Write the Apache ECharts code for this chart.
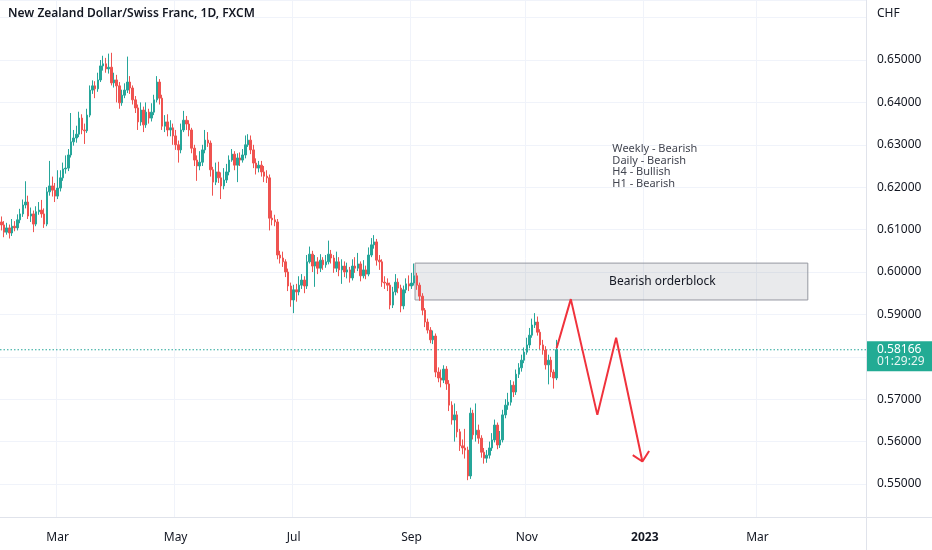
<!DOCTYPE html>
<html><head><meta charset="utf-8">
<script src="https://cdn.jsdelivr.net/npm/echarts@6/dist/echarts.min.js"></script>
<style>html,body{margin:0;padding:0;background:#fff}#c{width:932px;height:550px}</style>
</head><body><div id="c"></div>
<script>
// ---- data ----
const startDate = '2022-01-31';
const barCount = 323;
const tickDates = ['2022-03-01','2022-05-02','2022-07-01','2022-09-01','2022-11-01','2023-01-02','2023-03-01'];
const tickLabels = ['Mar','May','Jul','Sep','Nov','2023','Mar'];
const yMin = 0.542217, yMax = 0.664151;
const currency = 'CHF';
const titleText = 'New Zealand Dollar/Swiss Franc, 1D, FXCM';
const lastPrice = 0.58166;
const countdown = '01:29:29';

const openP = [
.6118,.6111,.6094,.6104,.6092,.6108,.6104,.6123,.6137,.6158,
.6165,.6132,.6137,.6113,.6142,.6146,.6137,.6113,.6189,.6203,
.6193,.6179,.6198,.6222,.6243,.6245,.6276,.6307,.6316,.6325,
.6363,.6335,.6333,.6370,.6429,.6439,.6432,.6453,.6486,.6491,
.6479,.6483,.6446,.6453,.6439,.6399,.6417,.6429,.6448,.6434,
.6406,.6387,.6354,.6382,.6347,.6377,.6363,.6377,.6406,.6448,
.6410,.6344,.6354,.6335,.6340,.6321,.6300,.6288,.6335,.6358,
.6349,.6335,.6292,.6264,.6250,.6259,.6288,.6311,.6304,.6241,
.6212,.6236,.6222,.6203,.6217,.6236,.6264,.6278,.6252,.6269,
.6264,.6276,.6300,.6311,.6288,.6257,.6245,.6252,.6236,.6226,
.6222,.6127,.6123,.6118,.6040,.6033,.6024,.6000,.5967,.5934,
.5958,.5953,.5969,.5981,.5967,.6024,.6042,.6014,.6024,.6009,
.6028,.6017,.6024,.6042,.6033,.6009,.6024,.6005,.6014,.6000,
.6005,.5986,.6014,.6009,.6019,.5991,.6005,.5995,.6040,.6064,
.6071,.6028,.6024,.5976,.5974,.5969,.5922,.5953,.5976,.5962,
.5920,.5958,.5972,.5967,.5974,.5991,.5969,.5943,.5910,.5882,
.5863,.5840,.5849,.5764,.5750,.5745,.5771,.5736,.5686,.5651,
.5663,.5623,.5590,.5585,.5580,.5519,.5667,.5616,.5627,.5608,
.5575,.5561,.5568,.5585,.5604,.5639,.5592,.5604,.5663,.5686,
.5693,.5733,.5717,.5759,.5774,.5792,.5811,.5828,.5851,.5875,
.5882,.5858,.5828,.5816,.5781,.5792,.5764,.5750];

const closeP = [
.6111,.6094,.6104,.6092,.6108,.6104,.6123,.6137,.6158,.6165,
.6132,.6137,.6113,.6142,.6146,.6137,.6113,.6189,.6203,.6193,
.6179,.6198,.6222,.6243,.6245,.6276,.6307,.6316,.6325,.6363,
.6335,.6333,.6370,.6429,.6439,.6432,.6453,.6486,.6491,.6479,
.6483,.6446,.6453,.6439,.6399,.6417,.6429,.6448,.6434,.6406,
.6387,.6354,.6382,.6347,.6377,.6363,.6377,.6406,.6448,.6410,
.6344,.6354,.6335,.6340,.6321,.6300,.6288,.6335,.6358,.6349,
.6335,.6292,.6264,.6250,.6259,.6288,.6311,.6304,.6241,.6212,
.6236,.6222,.6203,.6217,.6236,.6264,.6278,.6252,.6269,.6264,
.6276,.6300,.6311,.6288,.6257,.6245,.6252,.6236,.6226,.6222,
.6127,.6123,.6118,.6040,.6033,.6024,.6000,.5967,.5934,.5958,
.5953,.5969,.5981,.5967,.6024,.6042,.6014,.6024,.6009,.6028,
.6017,.6024,.6042,.6033,.6009,.6024,.6005,.6014,.6000,.6005,
.5986,.6014,.6009,.6019,.5991,.6005,.5995,.6040,.6064,.6071,
.6028,.6024,.5976,.5974,.5969,.5922,.5953,.5976,.5962,.5920,
.5958,.5972,.5967,.5974,.5991,.5969,.5943,.5910,.5882,.5863,
.5840,.5849,.5764,.5750,.5745,.5771,.5736,.5686,.5651,.5663,
.5623,.5590,.5585,.5580,.5519,.5667,.5616,.5627,.5608,.5575,
.5561,.5568,.5585,.5604,.5639,.5592,.5604,.5663,.5686,.5693,
.5733,.5717,.5759,.5774,.5792,.5811,.5828,.5851,.5875,.5882,
.5858,.5828,.5816,.5781,.5792,.5764,.5750,.58166];

const highP = [
.6131,.6120,.6116,.6112,.6125,.6120,.6136,.6149,.6171,.6214,
.6180,.6152,.6145,.6155,.6165,.6170,.6150,.6200,.6262,.6225,
.6210,.6240,.6240,.6258,.6275,.6290,.6375,.6335,.6345,.6378,
.6372,.6350,.6385,.6440,.6452,.6450,.6470,.6500,.6510,.6505,
.6515,.6517,.6470,.6465,.6448,.6430,.6445,.6508,.6462,.6440,
.6415,.6395,.6400,.6390,.6400,.6385,.6398,.6418,.6462,.6455,
.6418,.6370,.6372,.6358,.6350,.6335,.6310,.6350,.6380,.6368,
.6358,.6340,.6300,.6275,.6285,.6300,.6335,.6330,.6310,.6248,
.6258,.6260,.6235,.6245,.6255,.6275,.6290,.6285,.6280,.6282,
.6290,.6322,.6325,.6322,.6300,.6268,.6262,.6262,.6250,.6240,
.6230,.6145,.6135,.6125,.6050,.6048,.6030,.6008,.5975,.5970,
.5972,.5990,.5995,.5990,.6040,.6060,.6050,.6040,.6035,.6042,
.6035,.6040,.6074,.6052,.6040,.6048,.6035,.6030,.6025,.6022,
.6012,.6030,.6035,.6045,.6025,.6028,.6015,.6058,.6080,.6087,
.6078,.6040,.6030,.5990,.5985,.5975,.5965,.5995,.5985,.5970,
.5968,.5985,.5992,.5998,.6020,.5998,.5975,.5950,.5915,.5890,
.5870,.5862,.5855,.5775,.5770,.5780,.5778,.5745,.5695,.5690,
.5672,.5630,.5605,.5630,.5588,.5680,.5675,.5690,.5640,.5615,
.5585,.5580,.5600,.5620,.5652,.5645,.5625,.5675,.5700,.5715,
.5745,.5742,.5770,.5785,.5805,.5822,.5845,.5868,.5890,.5903,
.5895,.5865,.5840,.5825,.5805,.5800,.5770,.5840];

const lowP = [
.6098,.6082,.6088,.6079,.6085,.6096,.6098,.6115,.6130,.6150,
.6125,.6118,.6094,.6108,.6135,.6128,.6104,.6108,.6180,.6178,
.6165,.6172,.6190,.6215,.6232,.6238,.6270,.6298,.6305,.6318,
.6325,.6302,.6328,.6365,.6420,.6410,.6425,.6448,.6475,.6470,
.6468,.6440,.6435,.6400,.6385,.6392,.6410,.6422,.6420,.6395,
.6375,.6335,.6345,.6330,.6340,.6350,.6355,.6370,.6400,.6395,
.6335,.6330,.6320,.6320,.6300,.6288,.6258,.6280,.6330,.6335,
.6320,.6280,.6250,.6215,.6240,.6250,.6280,.6295,.6225,.6180,
.6205,.6210,.6172,.6195,.6210,.6228,.6260,.6240,.6212,.6250,
.6258,.6268,.6295,.6278,.6245,.6230,.6235,.6225,.6212,.6210,
.6098,.6110,.6108,.6030,.6020,.6012,.5988,.5955,.5918,.5903,
.5930,.5945,.5960,.5950,.5960,.6020,.6000,.5965,.5995,.6000,
.6005,.6010,.6018,.6020,.5998,.6000,.5990,.5972,.5988,.5985,
.5975,.5980,.5998,.6002,.5978,.5985,.5983,.5990,.6035,.6055,
.6015,.6005,.5965,.5960,.5955,.5912,.5915,.5945,.5950,.5905,
.5912,.5950,.5955,.5960,.5968,.5958,.5932,.5898,.5870,.5855,
.5832,.5830,.5752,.5740,.5728,.5738,.5722,.5672,.5640,.5600,
.5610,.5578,.5570,.5560,.5509,.5512,.5605,.5600,.5595,.5562,
.5548,.5550,.5560,.5578,.5598,.5582,.5585,.5598,.5655,.5675,
.5685,.5705,.5710,.5750,.5765,.5785,.5805,.5820,.5845,.5868,
.5850,.5818,.5805,.5770,.5735,.5752,.5725,.5745];

// drawings (bar index on a continuous scale, price)
const zigIdx = [207.1, 212.4, 222.3, 229.3, 239.1];
const zigPrice = [0.5820, 0.5936, 0.5663, 0.5845, 0.5553];
const arrowIdx = [235.5, 239.1, 241.6];
const arrowPrice = [0.5568, 0.5553, 0.5578];
const blockIdx = [154.3, 300.8];
const blockPrice = [0.6021, 0.5934];
const blockLabel = 'Bearish orderblock';
const noteLines = ['Weekly - Bearish', 'Daily - Bearish', 'H4 - Bullish', 'H1 - Bearish'];
const noteIdx = 227.9, notePrice = 0.63037;

// ---- build ----
function weekdayCategories(start, n) {
  const out = []; const d = new Date(start + 'T00:00:00Z');
  while (out.length < n) {
    const wd = d.getUTCDay();
    if (wd !== 0 && wd !== 6) out.push(d.toISOString().slice(0, 10));
    d.setUTCDate(d.getUTCDate() + 1);
  }
  return out;
}
const categories = weekdayCategories(startDate, barCount);
const candles = openP.map((o, i) => [o, closeP[i], lowP[i], highP[i]]);
const FONT = "'Noto Sans', 'DejaVu Sans', sans-serif";
const isTick = (i, v) => tickDates.indexOf(v) >= 0;
const UP = '#26a69a', DOWN = '#ef5350', DRAW = '#f0323c';

const chart = echarts.init(document.getElementById('c'));
chart.setOption({
  animation: false,
  backgroundColor: '#ffffff',
  title: { text: titleText, left: 8, top: 8, padding: 0,
    textStyle: { fontSize: 12, fontWeight: 600, color: '#131722', fontFamily: FONT } },
  grid: { left: 0, right: 66, top: 0, bottom: 33 },
  xAxis: [{
    type: 'category', data: categories, boundaryGap: true,
    axisLine: { show: false }, axisTick: { show: false },
    axisLabel: {
      interval: isTick, margin: 15, color: '#131722', fontSize: 12, fontFamily: FONT,
      formatter: v => { const k = tickDates.indexOf(v); const t = tickLabels[k]; return /^\d{4}$/.test(t) ? '{b|' + t + '}' : t; },
      rich: { b: { fontWeight: 'bold', fontSize: 12, color: '#131722', fontFamily: FONT } }
    },
    splitLine: { show: true, interval: isTick, lineStyle: { color: '#f0f3fa', width: 1 } }
  }, {
    type: 'value', min: -0.5, max: barCount - 0.5, show: false
  }],
  yAxis: [{
    type: 'value', position: 'right', min: yMin, max: yMax, splitNumber: 12,
    minInterval: 0.01, maxInterval: 0.01,
    axisLine: { show: false }, axisTick: { show: false },
    axisLabel: {
      showMinLabel: false, showMaxLabel: false, margin: 11, color: '#131722', fontSize: 12, fontFamily: FONT,
      formatter: v => {
        const r = Math.round(v * 100) / 100;
        if (Math.abs(v - r) > 1e-6) return '';
        if (r > 0.655 || Math.abs(r - 0.58) < 1e-6) return '';
        return r.toFixed(5);
      }
    },
    splitLine: { show: true, lineStyle: { color: '#f0f3fa', width: 1 } }
  }],
  series: [{
    type: 'line', xAxisIndex: 1, yAxisIndex: 0, symbol: 'none', z: 1, silent: true,
    data: [[-0.5, lastPrice], [barCount - 0.5, lastPrice]],
    lineStyle: { color: UP, type: [1.5, 2], width: 1 }
  }, {
    type: 'candlestick', data: candles, barWidth: 2,
    itemStyle: { color: UP, color0: DOWN, borderColor: UP, borderColor0: DOWN, borderWidth: 1 }
  }, {
    type: 'line', xAxisIndex: 1, yAxisIndex: 0, symbol: 'none', z: 5,
    data: zigIdx.map((x, i) => [x, zigPrice[i]]),
    lineStyle: { color: DRAW, width: 2 },
    markArea: {
      silent: true,
      itemStyle: { color: 'rgba(120,123,134,0.16)', borderColor: '#9598a1', borderWidth: 1 },
      label: { show: true, position: 'inside', offset: [51, 0], color: '#131722', fontSize: 12, fontFamily: FONT },
      data: [[{ name: blockLabel, coord: [blockIdx[0], blockPrice[0]] }, { coord: [blockIdx[1], blockPrice[1]] }]]
    }
  }, {
    type: 'line', xAxisIndex: 1, yAxisIndex: 0, symbol: 'none', z: 5,
    data: arrowIdx.map((x, i) => [x, arrowPrice[i]]),
    lineStyle: { color: DRAW, width: 2 }
  }]
});

const notePx = chart.convertToPixel({ xAxisIndex: 1, yAxisIndex: 0 }, [noteIdx, notePrice]);
const pricePx = chart.convertToPixel({ xAxisIndex: 1, yAxisIndex: 0 }, [0, lastPrice]);
const py = pricePx[1];
chart.setOption({
  graphic: [
    { type: 'line', silent: true, z: 50, shape: { x1: 866.5, y1: 0, x2: 866.5, y2: 550 }, style: { stroke: '#e0e3eb', lineWidth: 1 } },
    { type: 'line', silent: true, z: 50, shape: { x1: 0, y1: 517.5, x2: 932, y2: 517.5 }, style: { stroke: '#e0e3eb', lineWidth: 1 } },
    { type: 'text', silent: true, z: 50, x: 877, y: 14, style: { text: currency, fill: '#131722', font: '12px ' + FONT, verticalAlign: 'middle', textVerticalAlign: 'middle' } },
    { type: 'text', silent: true, z: 50, x: notePx[0], y: notePx[1],
      style: { text: noteLines.join('\n'), fill: '#434651', font: '11px ' + FONT, lineHeight: 11.5, verticalAlign: 'top', textVerticalAlign: 'top' } },
    { type: 'rect', silent: true, z: 60, shape: { x: 867, y: py - 8.5, width: 65, height: 30 }, style: { fill: '#22ab94' } },
    { type: 'text', silent: true, z: 61, x: 877, y: py, style: { text: lastPrice.toFixed(5), fill: '#ffffff', font: '12px ' + FONT, verticalAlign: 'middle', textVerticalAlign: 'middle' } },
    { type: 'text', silent: true, z: 61, x: 877, y: py + 12.3, style: { text: countdown, fill: '#e6f5f2', font: '12px ' + FONT, verticalAlign: 'middle', textVerticalAlign: 'middle' } }
  ]
});
</script>
</body></html>
